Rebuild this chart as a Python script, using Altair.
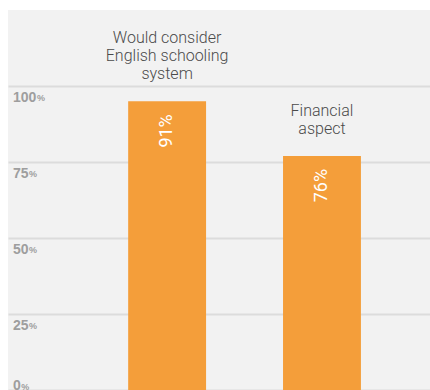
import altair as alt
import pandas as pd

categories = ["Would consider\nEnglish schooling\nsystem", "Financial\naspect"]
bar_heights = [95, 77]          # bar heights as drawn against the axis
value_labels = ["91%", "76%"]   # printed labels
ticks = [0, 25, 50, 75, 100]

bars_df = pd.DataFrame({"cat": categories, "h": bar_heights, "lab": value_labels})
bars_df["n"] = [c.count("\n") + 1 for c in categories]
ticks_df = pd.DataFrame({"t": ticks})

ORANGE = "#f49e3a"
FONT = "Roboto"
LH = 18

xscale = alt.Scale(type="band", domain=categories, paddingInner=0.497,
                   paddingOuter=0.611, align=0.635)
yscale = alt.Scale(domain=[0, 125], nice=False)

X = alt.X("cat:N", scale=xscale, axis=None, sort=categories)
Y = alt.Y("h:Q", scale=yscale,
          axis=alt.Axis(values=ticks, labels=False, ticks=False, domain=False,
                        grid=True, gridColor="#dcdcdc", gridWidth=2, title=None))

base = alt.Chart(bars_df)

bars = base.mark_bar(color=ORANGE).encode(x=X, y=Y)

vals = base.mark_text(angle=270, align="right", baseline="middle", dx=-13,
                      color="white", fontSize=18, font=FONT).encode(
    x=X, y=alt.Y("h:Q", scale=yscale), text="lab:N")

layers = [bars, vals]
for n in sorted(set(bars_df["n"])):
    layers.append(
        base.transform_filter(f"datum.n == {n}").mark_text(
            baseline="alphabetic", dy=-22 - LH * (n - 1), lineBreak="\n",
            lineHeight=LH, fontSize=16, fontWeight=300, font=FONT,
            color="#4a4a4a").encode(
            x=X, y=alt.Y("h:Q", scale=yscale), text="cat:N"))

tk = alt.Chart(ticks_df)
lab_style = dict(align="left", fontWeight="bold", font="Liberation Sans", color="#9e9e9e")
num_top = tk.transform_filter("datum.t > 0").mark_text(
    baseline="top", dy=5, fontSize=14, **lab_style).encode(
    x=alt.value(5), y=alt.Y("t:Q", scale=yscale), text=alt.Text("t:Q"))
num_bot = tk.transform_filter("datum.t == 0").mark_text(
    baseline="alphabetic", dy=0, fontSize=14, **lab_style).encode(
    x=alt.value(5), y=alt.Y("t:Q", scale=yscale), text=alt.Text("t:Q"))

pct_top = tk.transform_filter("datum.t > 0").transform_calculate(
    px="5.5 + 7.8 * length(toString(datum.t))", p="'%'").mark_text(
    baseline="top", dy=8, fontSize=9, **lab_style).encode(
    x=alt.X("px:Q", scale=None), y=alt.Y("t:Q", scale=yscale), text="p:N")
pct_bot = tk.transform_filter("datum.t == 0").transform_calculate(
    px="5.5 + 7.8 * length(toString(datum.t))", p="'%'").mark_text(
    baseline="alphabetic", dy=0, fontSize=9, **lab_style).encode(
    x=alt.X("px:Q", scale=None), y=alt.Y("t:Q", scale=yscale), text="p:N")

layers += [num_top, num_bot, pct_top, pct_bot]

chart = alt.layer(*layers).resolve_scale(x="independent").properties(
    width=422, height=380, background="white",
    padding={"left": 8, "top": 10, "right": 0, "bottom": 0},
    autosize=alt.AutoSizeParams(type="none"),
).configure_view(fill="#f2f2f2", stroke=None)

chart.save("out.html", embed_options={"renderer": "svg", "actions": False})
